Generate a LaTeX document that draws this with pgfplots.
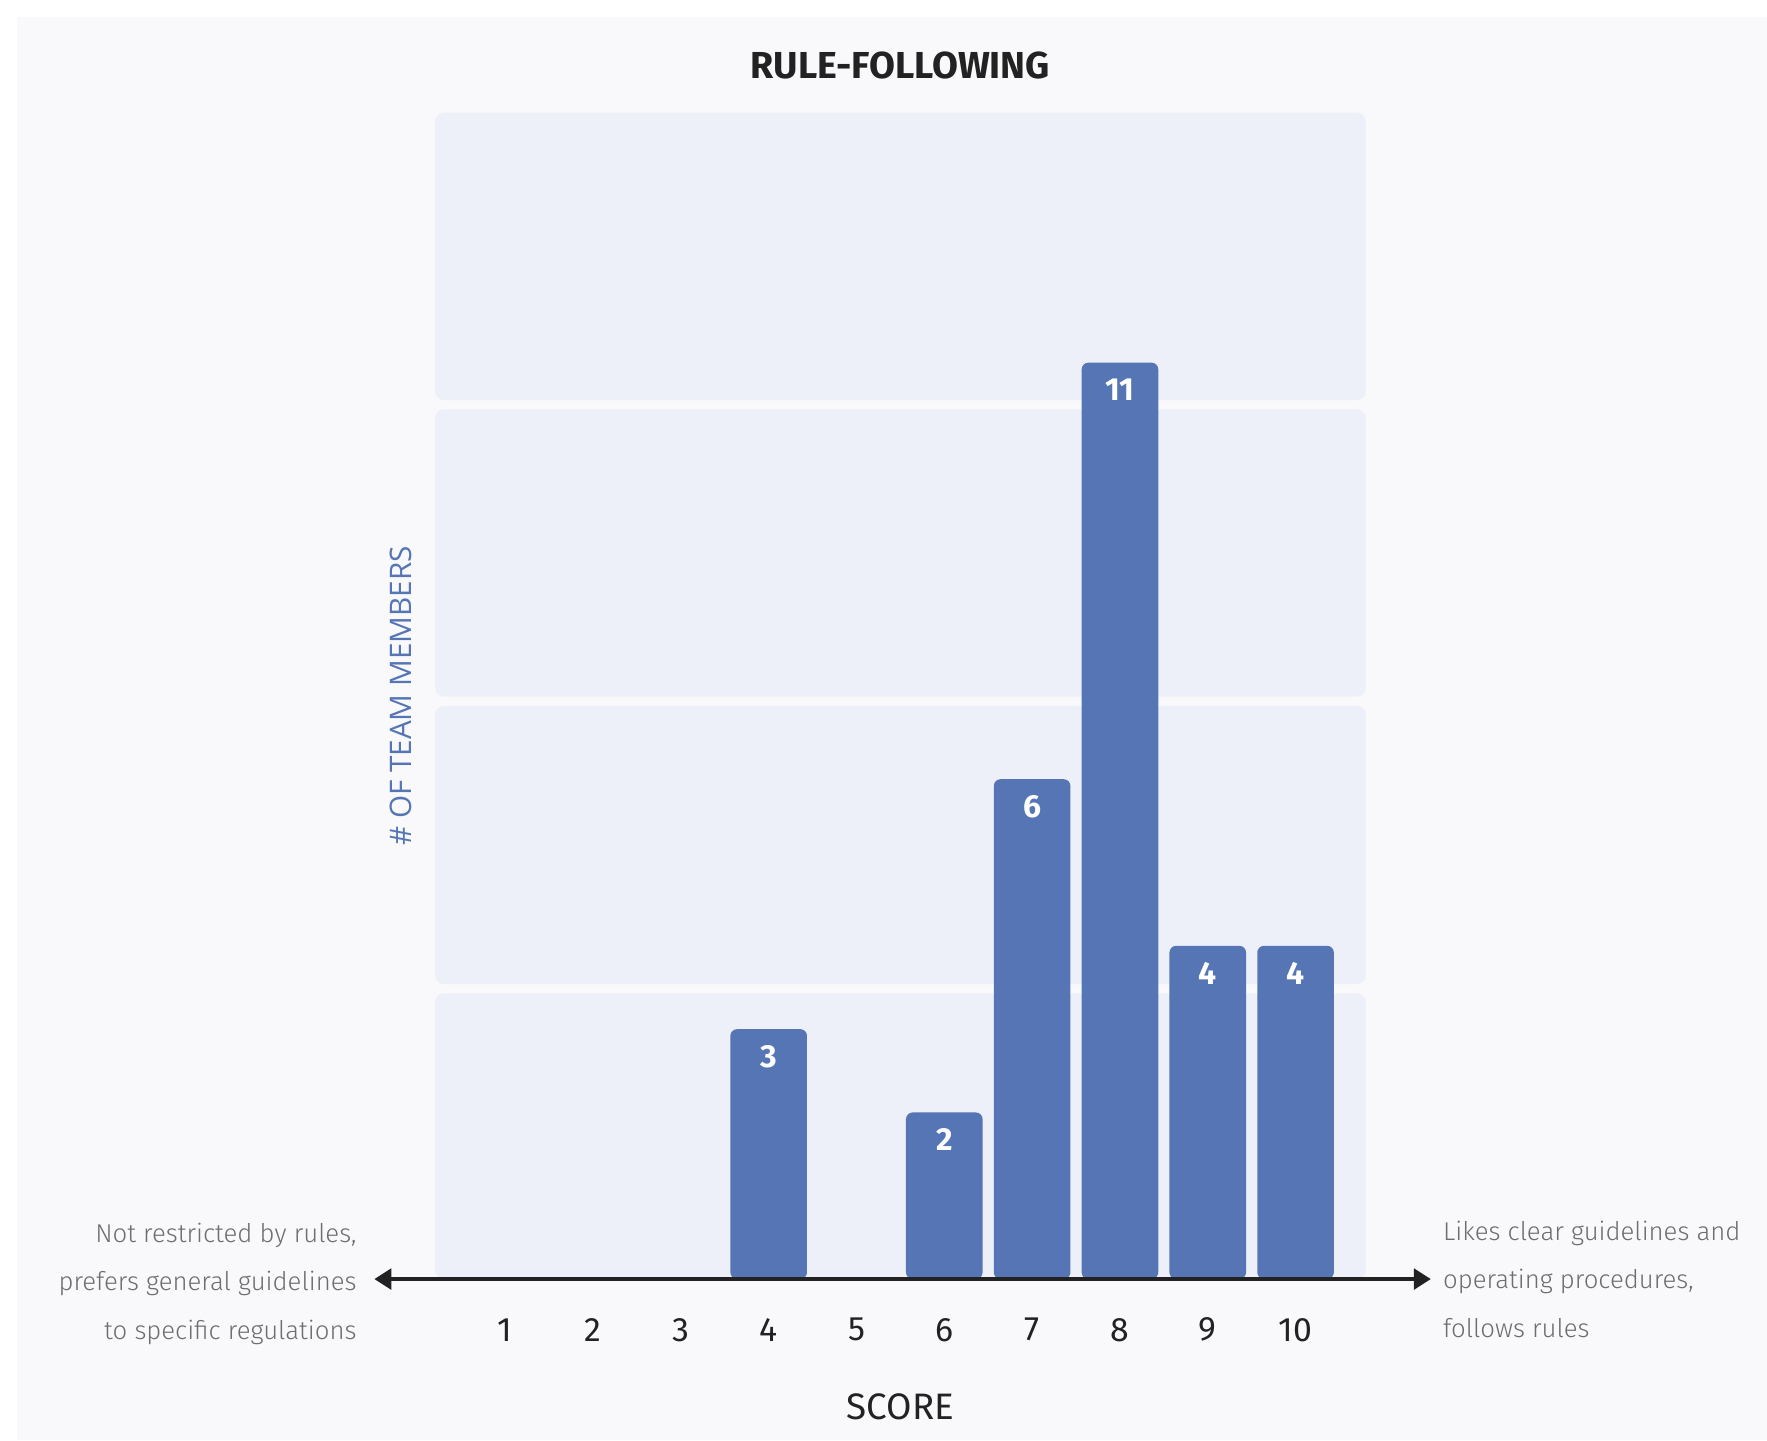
\documentclass[border=0pt]{standalone}
\usepackage{fontspec}
\setmainfont{Fira Sans}
\newfontfamily\labelfont{Open Sans}
\newfontfamily\lightfont{Fira Sans Light}
\usepackage{pgfplots}
\pgfplotsset{compat=1.18}
\usetikzlibrary{arrows.meta}

\definecolor{barblue}{HTML}{5675B5}
\definecolor{bandbg}{HTML}{EDF0F8}
\definecolor{panelbg}{HTML}{F9F9FC}
\definecolor{notegrey}{HTML}{6E6E6E}
\definecolor{inkdark}{HTML}{222222}

\pgfplotstableread{
score count
4 3
6 2
7 6
8 11
9 4
10 4
}\scores

\begin{document}
\begin{tikzpicture}
  % canvas and panel (1 px of the 1568-wide view = 0.3pt)
  \fill[white] (-115.8pt,-42.9pt) rectangle (354.6pt,340.5pt);
  \fill[panelbg] (-111.3pt,-42.9pt) rectangle (354.6pt,336.0pt);
  \begin{axis}[
    scale only axis, width=247.8pt, height=310.5pt,
    xmin=0.2, xmax=10.8, ymin=0, ymax=14,
    clip=false,
    axis line style={draw=none},
    xtick={1,...,10}, ytick=\empty,
    major tick length=0pt,
    xticklabel style={anchor=center, yshift=-13.5pt, font=\fontsize{9}{11}\selectfont, text=inkdark},
    /pgf/number format/assume math mode=true,
    every axis title shift=0pt,
    title={\bfseries RULE-FOLLOWING},
    title style={at={(rel axis cs:0.5,1.0406)}, anchor=center, font=\fontsize{10}{12}\selectfont, text=inkdark},
    xlabel={SCORE},
    xlabel style={at={(rel axis cs:0.5,-0.1092)}, anchor=center, font=\fontsize{9.8}{11}\selectfont, text=inkdark},
    ylabel={\labelfont \# OF TEAM MEMBERS},
    ylabel style={at={(rel axis cs:-0.0363,0.5)}, anchor=center, font=\fontsize{7.9}{10}\selectfont, text=barblue},
    ybar, bar width=20.4pt,
    nodes near coords,
    every node near coord/.append style={anchor=north, yshift=-0.8pt, text=white, font=\bfseries\fontsize{8.5}{10}\selectfont},
  ]
    % horizontal bands
    \fill[bandbg, rounded corners=2.4pt] (axis cs:0.2,0) rectangle (axis cs:10.8,3.43);
    \fill[bandbg, rounded corners=2.4pt] (axis cs:0.2,3.54) rectangle (axis cs:10.8,6.88);
    \fill[bandbg, rounded corners=2.4pt] (axis cs:0.2,6.99) rectangle (axis cs:10.8,10.44);
    \fill[bandbg, rounded corners=2.4pt] (axis cs:0.2,10.55) rectangle (axis cs:10.8,14);

    \addplot[fill=barblue, draw=none, rounded corners=1.8pt] table[x=score, y=count] {\scores};

    \draw[line width=0.9pt, inkdark, {Triangle[length=4.5pt,width=5.5pt]}-{Triangle[length=4.5pt,width=5.5pt]}]
      (axis cs:-0.49,0) -- (axis cs:11.54,0);

    \node[anchor=east, align=right, inner sep=0pt, text=notegrey, font=\lightfont\fontsize{6.85}{12.9}\selectfont]
      at (rel axis cs:-0.0835,-0.004) {Not restricted by rules,\\prefers general guidelines\\to specific regulations};
    \node[anchor=west, align=left, inner sep=0pt, text=notegrey, font=\lightfont\fontsize{6.85}{12.9}\selectfont]
      at (rel axis cs:1.0823,0) {Likes clear guidelines and\\operating procedures,\\follows rules};
  \end{axis}
\end{tikzpicture}
\end{document}
